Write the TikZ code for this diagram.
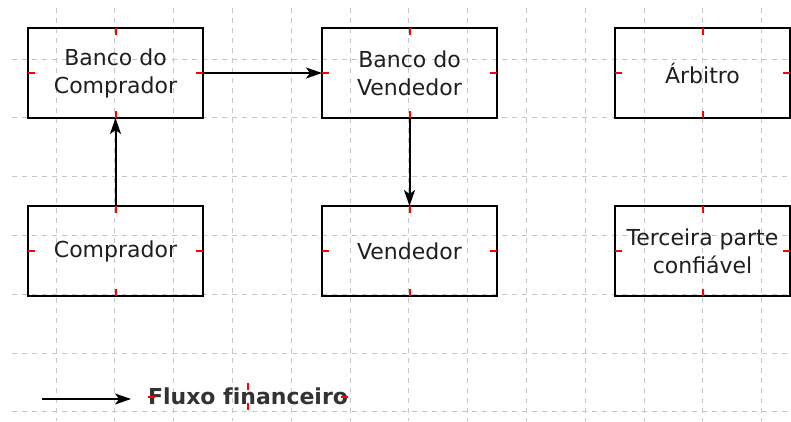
\documentclass[tikz,border=0pt]{standalone}
\usepackage{fontspec}
\setmainfont{DejaVu Sans}
\usetikzlibrary{arrows.meta}
\begin{document}
\begin{tikzpicture}[x=1pt,y=-1pt,
  gridline/.style={draw=black!22, dash pattern=on 5pt off 5pt, line width=1pt},
  box/.style={draw=black, line width=2pt, minimum width=175pt, minimum height=90pt,
    inner sep=0pt, outer sep=0pt, align=center, font=\fontsize{22}{28}\selectfont, text=black!88},
  flow/.style={draw=black, line width=2pt, -{Stealth[length=16pt,width=11pt,inset=4pt]}},
  tickmark/.style={draw=red, line width=2pt},
  legendtext/.style={font=\bfseries\fontsize{22}{26}\selectfont, text=black!80,
    inner xsep=0pt, inner ysep=0pt, minimum height=27pt, outer sep=0pt}]
\useasboundingbox (0,0) rectangle (791,421);
\fill[white] (0,0) rectangle (791,421);
% grid
\foreach \k in {0,...,12} \draw[gridline] ({56+58.8*\k},8) -- ({56+58.8*\k},421);
\foreach \k in {0,...,6} \draw[gridline] (12,{59+58.8*\k}) -- (791,{59+58.8*\k});
% boxes
\node[box] (bc) at (115.5,73) {Banco do\\Comprador};
\node[box] (bv) at (409.5,73) {Banco do\\Vendedor};
\node[box] (ar) at (702.5,73) {Árbitro};
\node[box] (co) at (115.5,251) {Comprador};
\node[box] (ve) at (409.5,251) {Vendedor};
\node[box] (tp) at (702.5,251) {Terceira parte\\confiável};
% connectors
\draw[flow] (co.north) -- (bc.south);
\draw[flow] (bc.east) -- (bv.west);
\draw[flow] (bv.south) -- (ve.north);
% legend
\coordinate (ls) at (42,399);
\coordinate (le) at (131,399);
\draw[flow] (ls) -- (le);
\node[legendtext] (lt) at (248,396.5) {Fluxo f\kern0pt inanceiro};
% connection marks
\foreach \n in {bc,bv,ar,co,ve,tp,lt} {
  \draw[tickmark] (\n.north) -- ++(0,7);
  \draw[tickmark] (\n.south) -- ++(0,-7);
  \draw[tickmark] (\n.west) -- ++(7,0);
  \draw[tickmark] (\n.east) -- ++(-7,0);
}
\end{tikzpicture}
\end{document}
